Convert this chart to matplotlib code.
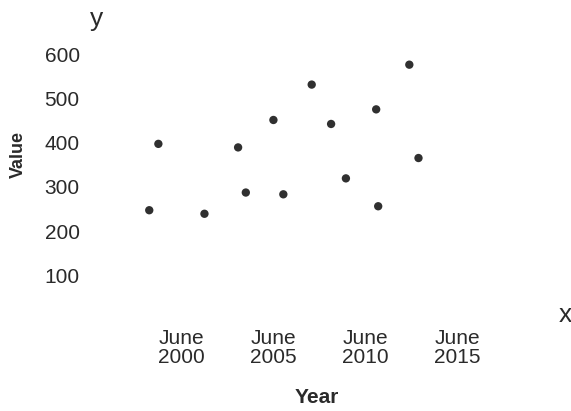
import matplotlib
matplotlib.use("Agg")
import matplotlib.pyplot as plt
import datetime as dt

plt.rcParams['font.family'] = ['Liberation Sans', 'DejaVu Sans']

dates = ["1998-09-01", "1999-03-01", "2001-09-01", "2003-07-01", "2003-12-01",
         "2005-06-01", "2005-12-15", "2007-07-01", "2008-07-20", "2009-05-10",
         "2011-01-01", "2011-02-10", "2012-10-20", "2013-04-20"]
values = [247, 397, 239, 389, 287, 451, 283, 531, 442, 319, 475, 256, 576, 365]
tick_dates = ["2000-06-01", "2005-06-01", "2010-06-01", "2015-06-01"]
tick_labels = ["June\n2000", "June\n2005", "June\n2010", "June\n2015"]
y_ticks = [100, 200, 300, 400, 500, 600]

W, H = 571, 411
fig = plt.figure(figsize=(W / 100, H / 100), dpi=100)
left, right, top, bottom = 95, 555, 20, 319.5
ax = fig.add_axes([left / W, 1 - bottom / H, (right - left) / W, (bottom - top) / H])

x = [dt.datetime.strptime(d, "%Y-%m-%d") for d in dates]
ax.scatter(x, values, s=36, color="#303030", edgecolors="none", zorder=3)

ax.set_xlim(dt.datetime(1995, 9, 20), dt.datetime(2020, 9, 20))
ax.set_ylim(0, 677)
ax.set_xticks([dt.datetime.strptime(d, "%Y-%m-%d") for d in tick_dates])
ax.set_xticklabels(tick_labels)
ax.set_yticks(y_ticks)
ax.set_yticklabels([str(v) for v in y_ticks])
ax.tick_params(axis="both", length=0, labelsize=15, colors="#2a2a2a")
ax.tick_params(axis="x", pad=7)
ax.tick_params(axis="y", pad=11)
for lab in ax.get_xticklabels():
    lab.set_linespacing(1.0)
for s in ax.spines.values():
    s.set_visible(False)
ax.patch.set_alpha(0)

fig.text(316.5 / W, 1 - 403 / H, "Year", ha="center", va="baseline",
         fontsize=15, fontweight="bold", color="#2a2a2a")
fig.text(18 / W, 1 - 155 / H, "Value", ha="center", va="center", rotation=90,
         fontsize=13, fontweight="bold", color="#2a2a2a")
fig.text(96.5 / W, 1 - 26 / H, "y", ha="center", va="baseline",
         fontsize=19, color="#2a2a2a")
fig.text(565 / W, 1 - 322 / H, "x", ha="center", va="baseline",
         fontsize=19, color="#2a2a2a")

fig.savefig("out.png", dpi=100, facecolor="white")
